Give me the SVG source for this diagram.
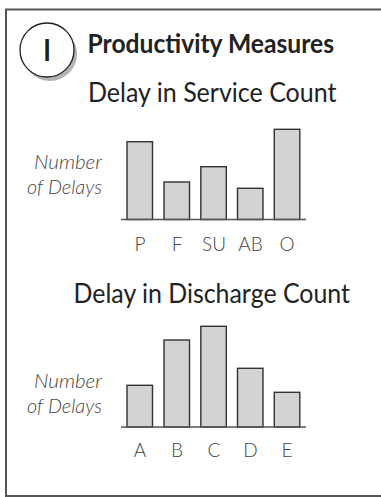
<svg xmlns="http://www.w3.org/2000/svg" width="381" height="497" viewBox="0 0 381 497">
<style>
.frame{fill:#fff;stroke:#555;stroke-width:2}
.bar{fill:#d3d3d3;stroke:#333;stroke-width:1.4}
.axis{stroke:#555;stroke-width:1.6;fill:none}
.title{font-family:Lato,"Liberation Sans",sans-serif;fill:#222}
.ylab{font-family:Lato,"Liberation Sans",sans-serif;font-style:italic;font-weight:300;font-size:19px;fill:#444;text-anchor:end}
.xlab{font-family:Lato,"Liberation Sans",sans-serif;font-weight:300;font-size:19px;fill:#444;text-anchor:middle}
</style>
<rect class="frame" x="6" y="9.5" width="400" height="486.5"/>
<g id="badge">
  <circle cx="50" cy="54" r="27" fill="#b3b3b3"/>
  <circle cx="47" cy="50" r="27" fill="#fff" stroke="#222" stroke-width="1.3"/>
  <text x="47" y="61" class="title" font-size="30" font-weight="600" text-anchor="middle">I</text>
</g>
<g id="heading">
  <text x="87.5" y="52.5" class="title" font-size="26" font-weight="bold" textLength="246.5" lengthAdjust="spacingAndGlyphs">Productivity Measures</text>
</g>
<g id="chart-service">
  <text x="88" y="102" class="title" font-size="26" textLength="248.5" lengthAdjust="spacingAndGlyphs">Delay in Service Count</text>
  <text x="102" y="169" class="ylab" textLength="68" lengthAdjust="spacingAndGlyphs">Number</text>
  <text x="102" y="194" class="ylab" textLength="75" lengthAdjust="spacingAndGlyphs">of Delays</text>
  <rect class="bar" x="127" y="141.7" width="25.5" height="77.8"/>
  <rect class="bar" x="164" y="182" width="25.5" height="37.5"/>
  <rect class="bar" x="200.8" y="166.7" width="25.5" height="52.8"/>
  <rect class="bar" x="237.5" y="188.3" width="25.5" height="31.2"/>
  <rect class="bar" x="274.3" y="129.3" width="25.5" height="90.2"/>
  <line class="axis" x1="121" y1="219.5" x2="306" y2="219.5"/>
  <text x="140" y="251" class="xlab">P</text>
  <text x="177" y="251" class="xlab">F</text>
  <text x="214" y="251" class="xlab">SU</text>
  <text x="250.5" y="251" class="xlab">AB</text>
  <text x="287" y="251" class="xlab">O</text>
</g>
<g id="chart-discharge">
  <text x="73.5" y="303" class="title" font-size="26" textLength="276.5" lengthAdjust="spacingAndGlyphs">Delay in Discharge Count</text>
  <text x="102" y="388" class="ylab" textLength="68" lengthAdjust="spacingAndGlyphs">Number</text>
  <text x="102" y="413" class="ylab" textLength="75" lengthAdjust="spacingAndGlyphs">of Delays</text>
  <rect class="bar" x="127" y="385.3" width="25.5" height="41.7"/>
  <rect class="bar" x="164" y="340" width="25.5" height="87"/>
  <rect class="bar" x="200.8" y="326.3" width="25.5" height="100.7"/>
  <rect class="bar" x="237.5" y="368.3" width="25.5" height="58.7"/>
  <rect class="bar" x="274.3" y="392.3" width="25.5" height="34.7"/>
  <line class="axis" x1="121" y1="427" x2="306" y2="427"/>
  <text x="140" y="457" class="xlab">A</text>
  <text x="177" y="457" class="xlab">B</text>
  <text x="214" y="457" class="xlab">C</text>
  <text x="250.5" y="457" class="xlab">D</text>
  <text x="287" y="457" class="xlab">E</text>
</g>
</svg>
